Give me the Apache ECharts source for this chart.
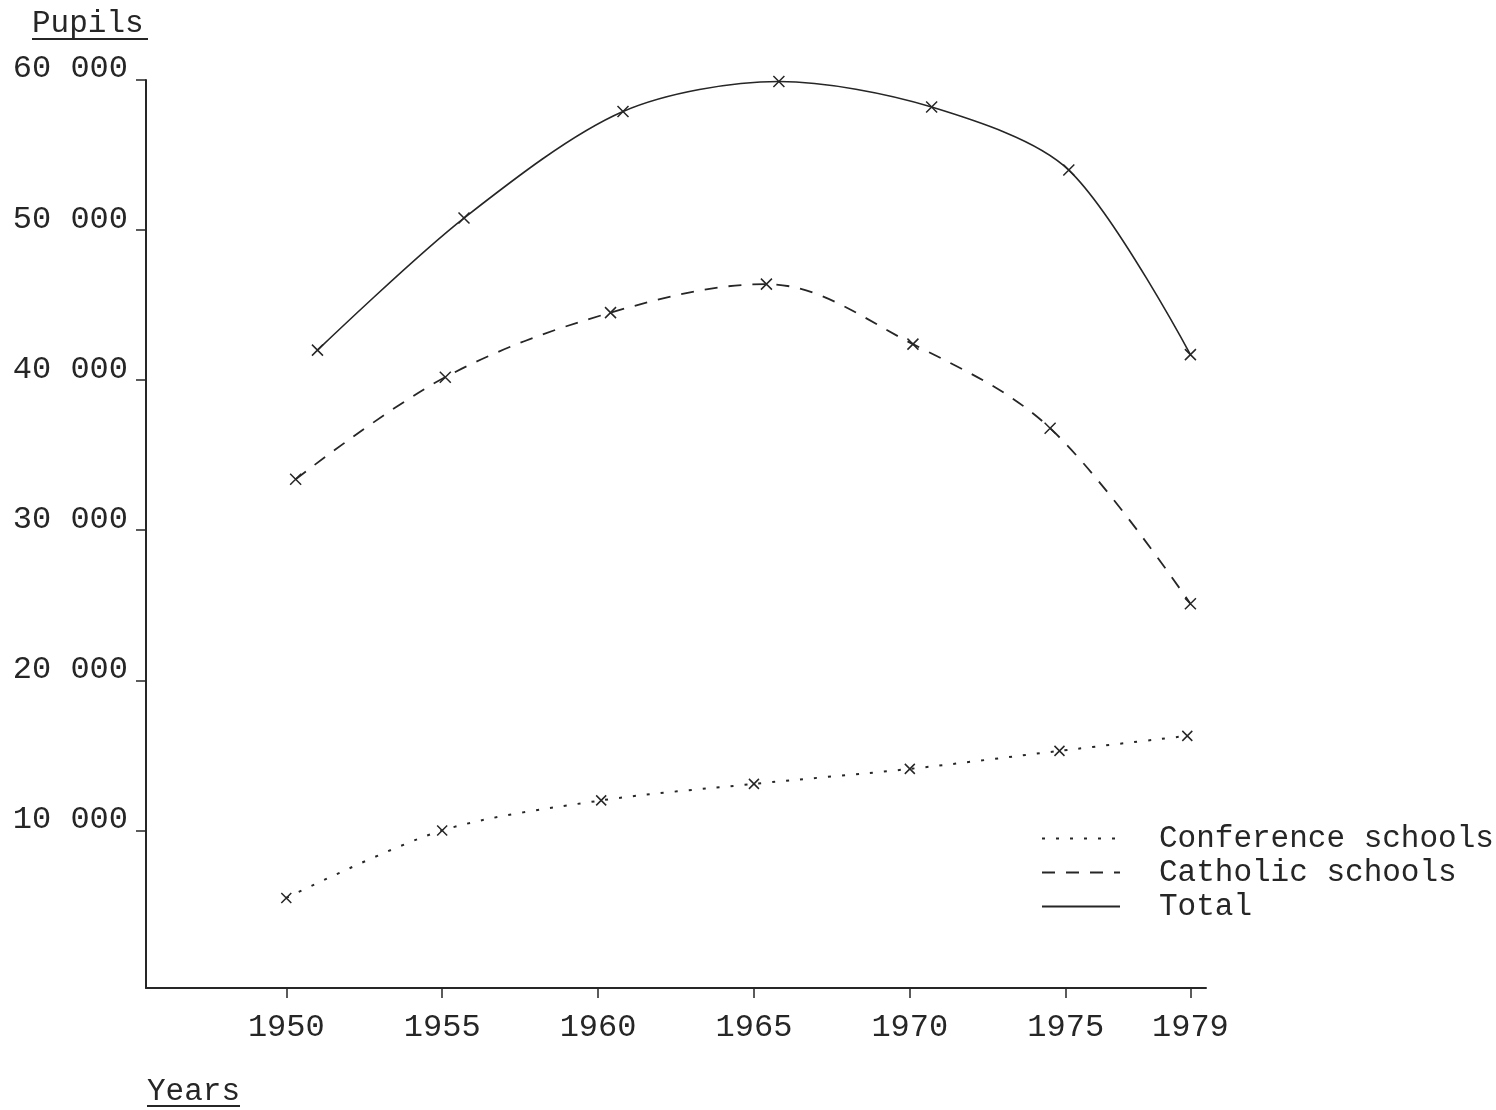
<!DOCTYPE html>
<html>
<head>
<meta charset="utf-8">
<script src="https://cdn.jsdelivr.net/npm/echarts@6/dist/echarts.min.js"></script>
<style>
html, body { margin: 0; background: #fff; }
#chart { width: 1496px; height: 1110px; }
</style>
</head>
<body>
<div id="chart"></div>
<script>
// axis ticks as printed on the original
var yearTicks = [1950, 1955, 1960, 1965, 1970, 1975, 1979];
var pupilTicks = [10000, 20000, 30000, 40000, 50000, 60000];

// series (years where the crosses sit)
var conferenceYears = [1950, 1955, 1960.1, 1965, 1970, 1974.8, 1978.9];
var conferencePupils = [5500, 10000, 12000, 13100, 14100, 15300, 16300];
var catholicYears = [1950.3, 1955.1, 1960.4, 1965.4, 1970.1, 1974.5, 1979];
var catholicPupils = [33400, 40200, 44500, 46400, 42400, 36800, 25100];
var totalYears = [1951, 1955.7, 1960.8, 1965.8, 1970.7, 1975.1, 1979];
var totalPupils = [42000, 50800, 57900, 59900, 58200, 54000, 41700];

var ink = '#262626';
var mono = '"Liberation Mono", "DejaVu Sans Mono", monospace';
var cross = 'path://M0,0L10,10M10,0L0,10';

function pairs(xs, ys) {
    return xs.map(function (x, i) { return [x, ys[i]]; });
}

var chart = echarts.init(document.getElementById('chart'));

chart.setOption({
    backgroundColor: '#fff',
    animation: false,
    grid: { left: 146, top: 80, width: 1060, height: 908 },
    xAxis: {
        type: 'value',
        min: 1945.5,
        max: 1979.5,
        splitLine: { show: false },
        axisLine: { onZero: false, lineStyle: { color: ink, width: 2 } },
        axisTick: { show: true, length: 10, customValues: yearTicks, lineStyle: { color: ink, width: 1.5 } },
        axisLabel: {
            customValues: yearTicks,
            margin: 24,
            color: ink,
            fontFamily: mono,
            fontSize: 32,
            formatter: function (v) { return String(v); }
        }
    },
    yAxis: {
        type: 'value',
        min: -500,
        max: 60000,
        splitLine: { show: false },
        axisLine: { show: true, lineStyle: { color: ink, width: 2 } },
        axisTick: { show: true, length: 10, customValues: pupilTicks, lineStyle: { color: ink, width: 1.5 } },
        axisLabel: {
            customValues: pupilTicks,
            margin: 18,
            color: ink,
            fontFamily: mono,
            fontSize: 32,
            verticalAlign: 'bottom',
            lineHeight: 22,
            formatter: function (v) { return (v / 1000) + ' 000'; }
        }
    },
    legend: {
        orient: 'vertical',
        left: 1036,
        top: 818,
        itemWidth: 78,
        itemHeight: 14,
        itemGap: 3,
        itemStyle: { opacity: 0 },
        textStyle: { color: ink, fontFamily: mono, fontSize: 31, padding: [0, 0, 0, 34] },
        data: ['Conference schools', 'Catholic schools', 'Total']
    },
    graphic: [
        { type: 'text', left: 32, top: 8, style: { text: 'Pupils', fill: ink, font: '31px ' + mono } },
        { type: 'line', shape: { x1: 32, y1: 39, x2: 148, y2: 39 }, style: { stroke: ink, lineWidth: 2 } },
        { type: 'text', left: 147, top: 1076, style: { text: 'Years', fill: ink, font: '31px ' + mono } },
        { type: 'line', shape: { x1: 147, y1: 1106, x2: 240, y2: 1106 }, style: { stroke: ink, lineWidth: 2 } }
    ],
    series: [
        {
            name: 'Conference schools',
            type: 'line',
            smooth: 0.3,
            symbol: cross,
            symbolSize: 10,
            itemStyle: { color: ink, borderColor: ink, borderWidth: 1.5 },
            lineStyle: { color: ink, width: 2, type: [3, 11] },
            data: pairs(conferenceYears, conferencePupils)
        },
        {
            name: 'Catholic schools',
            type: 'line',
            smooth: 0.35,
            symbol: cross,
            symbolSize: 11,
            itemStyle: { color: ink, borderColor: ink, borderWidth: 1.5 },
            lineStyle: { color: ink, width: 1.8, type: [13, 11] },
            data: pairs(catholicYears, catholicPupils)
        },
        {
            name: 'Total',
            type: 'line',
            smooth: 0.3,
            symbol: cross,
            symbolSize: 11,
            itemStyle: { color: ink, borderColor: ink, borderWidth: 1.5 },
            lineStyle: { color: ink, width: 1.6 },
            data: pairs(totalYears, totalPupils)
        }
    ]
});
</script>
</body>
</html>
